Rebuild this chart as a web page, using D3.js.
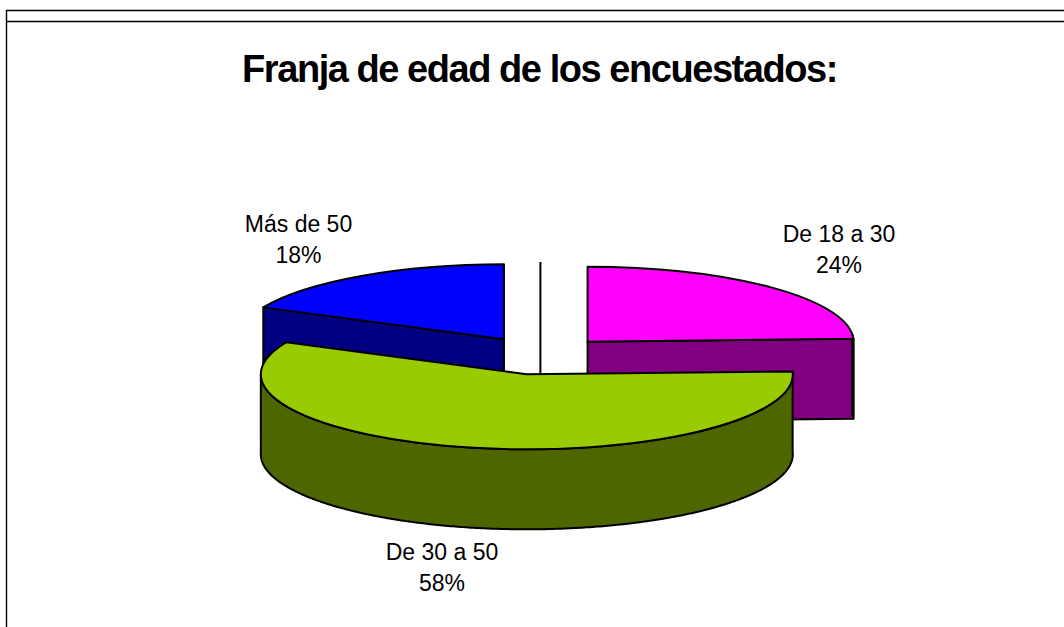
<!DOCTYPE html>
<html>
<head>
<meta charset="utf-8">
<script src="https://cdn.jsdelivr.net/npm/d3@7"></script>
<style>
  html, body { margin: 0; padding: 0; background: #fff; }
  svg { display: block; }
  text { font-family: "Liberation Sans", Arial, sans-serif; fill: #000; }
</style>
</head>
<body>
<div id="chart"></div>
<script>
const categories = ["De 18 a 30", "De 30 a 50", "Más de 50"];
// labels are rounded, the slices are drawn a little finer than that
const values = [24.4, 57.6, 18];
const topColors = ["#ff00ff", "#99cc00", "#0000ff"];
const sideColors = ["#800080", "#4d6600", "#000080"];
const titleText = "Franja de edad de los encuestados:";

const width = 1064;
const height = 627;
const cx = 540.4;
const cy = 355.5;
const radius = 266;
const squash = 0.282; // ellipse ry / rx
const depth = 80;
const explode = 68;

// label anchors: [x centre, baseline of name]
const labelPos = [
  [839, 242],
  [442, 559.5],
  [298.5, 232],
];

const svg = d3
  .select("#chart")
  .append("svg")
  .attr("width", width)
  .attr("height", height);

// frame of the slide
svg
  .append("path")
  .attr("d", `M${width},10.5H6.5V${height}M6.5,21.5H${width}`)
  .attr("fill", "none")
  .attr("stroke", "#000")
  .attr("stroke-width", 1.4);

const slices = d3
  .pie()
  .sort(null)
  .value((d) => d)(values)
  .map((s, i) => {
    const mid = (s.startAngle + s.endAngle) / 2;
    return {
      ...s,
      i,
      ox: cx + explode * Math.sin(mid),
      oy: cy - explode * Math.cos(mid) * squash,
    };
  });

const rimX = (s, a) => s.ox + radius * Math.sin(a);
const rimY = (s, a) => s.oy - radius * Math.cos(a) * squash;

const wall = d3
  .area()
  .x((p) => p.x)
  .y0((p) => p.y)
  .y1((p) => p.y + depth);

const topArc = d3.arc().innerRadius(0).outerRadius(radius);

// stray centre line left behind the pie
svg
  .append("line")
  .attr("x1", cx)
  .attr("x2", cx)
  .attr("y1", 262)
  .attr("y2", 375)
  .attr("stroke", "#000")
  .attr("stroke-width", 2);

function drawSlice(s) {
  const g = svg.append("g");
  const sideStyle = (sel) =>
    sel
      .attr("fill", sideColors[s.i])
      .attr("stroke", "#000")
      .attr("stroke-width", 2)
      .attr("stroke-linejoin", "round");

  // flat cut faces, only those turned to the viewer
  const faces = [];
  if (Math.sin(s.startAngle) < -1e-6) faces.push(s.startAngle);
  if (Math.sin(s.endAngle) > 1e-6) faces.push(s.endAngle);
  faces.forEach((a) => {
    g.append("path")
      .attr(
        "d",
        wall([
          { x: s.ox, y: s.oy },
          { x: rimX(s, a), y: rimY(s, a) },
        ])
      )
      .call(sideStyle);
  });

  // outer rim, front half only
  const from = Math.max(s.startAngle, Math.PI / 2 - 0.1);
  const to = Math.min(s.endAngle, (3 * Math.PI) / 2);
  if (to > from) {
    const pts = d3
      .range(from, to, 0.01)
      .concat(to)
      .map((a) => ({ x: rimX(s, a), y: rimY(s, a) }));
    g.append("path").attr("d", wall(pts)).call(sideStyle);
  }

  g.append("path")
    .attr("d", topArc(s))
    .attr("transform", `translate(${s.ox},${s.oy}) scale(1,${squash})`)
    .attr("fill", topColors[s.i])
    .attr("stroke", "#000")
    .attr("stroke-width", 2)
    .attr("stroke-linejoin", "round")
    .attr("vector-effect", "non-scaling-stroke");
}

// back slices first, the big front one last
drawSlice(slices[0]);
drawSlice(slices[2]);
drawSlice(slices[1]);

svg
  .append("text")
  .attr("x", 539.5)
  .attr("y", 82)
  .attr("text-anchor", "middle")
  .attr("font-size", 38)
  .attr("font-weight", "bold")
  .attr("letter-spacing", -1.45)
  .text(titleText);

const labels = svg
  .selectAll("g.label")
  .data(categories)
  .join("g")
  .attr("class", "label")
  .attr("font-size", 23)
  .attr("text-anchor", "middle");

labels
  .append("text")
  .attr("x", (d, i) => labelPos[i][0])
  .attr("y", (d, i) => labelPos[i][1])
  .text((d) => d);

labels
  .append("text")
  .attr("x", (d, i) => labelPos[i][0])
  .attr("y", (d, i) => labelPos[i][1] + 31)
  .text((d, i) => Math.round(values[i]) + "%");
</script>
</body>
</html>
